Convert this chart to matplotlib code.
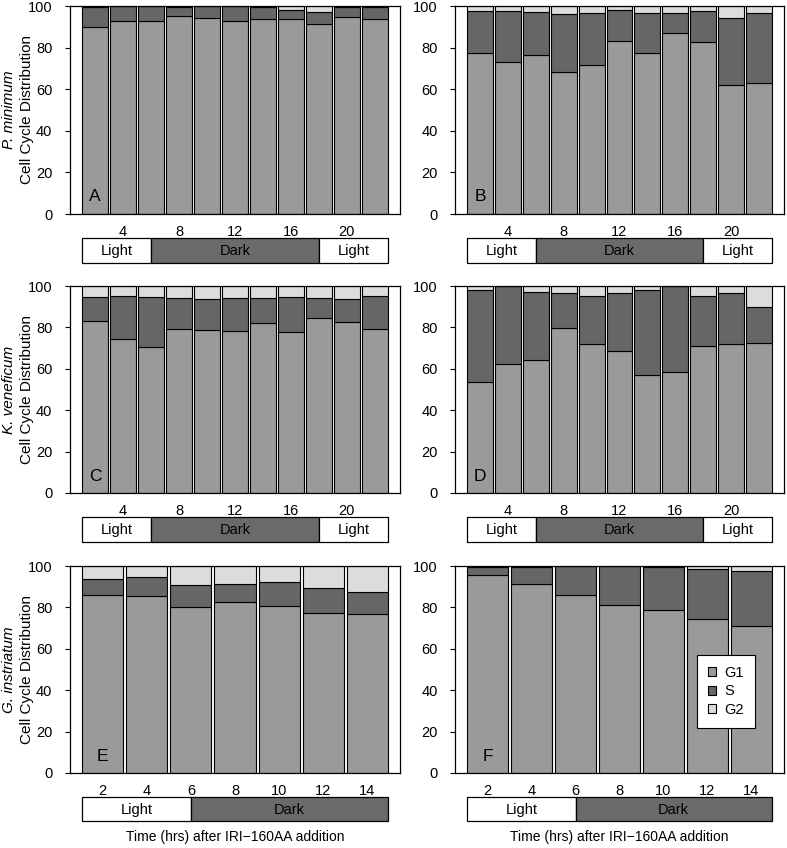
import matplotlib
matplotlib.use("Agg")
import matplotlib.pyplot as plt
from matplotlib.patches import Rectangle
import numpy as np

plt.rcParams['font.family'] = ['Liberation Sans', 'DejaVu Sans']

W, H, DPI = 787, 848, 100

# ---------------- data ----------------
times_24 = [2, 4, 6, 8, 10, 12, 14, 16, 18, 20, 22]
times_14 = [2, 4, 6, 8, 10, 12, 14]
ticks_24 = [4, 8, 12, 16, 20]
ticks_14 = [2, 4, 6, 8, 10, 12, 14]

A_g1 = [90.0, 93.0, 93.0, 95.2, 94.2, 93.0, 93.6, 93.7, 91.2, 94.7, 93.7]
A_s = [9.7, 6.8, 6.8, 4.5, 5.6, 6.8, 6.1, 4.5, 6.1, 4.7, 5.7]
A_g2 = [0.3, 0.2, 0.2, 0.3, 0.2, 0.2, 0.3, 1.8, 2.7, 0.6, 0.6]

B_g1 = [77.5, 73.0, 76.4, 68.5, 71.7, 83.1, 77.5, 87.2, 82.7, 61.8, 62.9]
B_s = [19.9, 24.4, 20.7, 27.6, 25.1, 14.8, 19.3, 9.6, 14.9, 32.6, 33.7]
B_g2 = [2.6, 2.6, 2.9, 3.9, 3.2, 2.1, 3.2, 3.2, 2.4, 5.6, 3.4]

C_g1 = [83.3, 74.3, 70.4, 79.3, 78.9, 78.1, 82.3, 77.8, 84.6, 82.8, 79.4]
C_s = [11.2, 20.9, 24.1, 14.8, 14.7, 16.0, 11.8, 16.7, 9.5, 10.8, 15.8]
C_g2 = [5.5, 4.8, 5.5, 5.9, 6.4, 5.9, 5.9, 5.5, 5.9, 6.4, 4.8]

D_g1 = [53.4, 62.5, 64.3, 79.9, 72.0, 68.6, 56.9, 58.5, 70.9, 72.0, 72.3]
D_s = [44.8, 37.3, 33.0, 16.9, 23.3, 27.9, 41.0, 41.3, 24.1, 24.5, 17.6]
D_g2 = [1.8, 0.2, 2.7, 3.2, 4.7, 3.5, 2.1, 0.2, 5.0, 3.5, 10.1]

E_g1 = [86.2, 85.5, 80.4, 82.6, 80.7, 77.5, 76.8]
E_s = [7.7, 9.4, 10.3, 8.7, 11.6, 11.7, 10.5]
E_g2 = [6.1, 5.1, 9.3, 8.7, 7.7, 10.8, 12.7]

F_g1 = [95.8, 91.3, 85.8, 81.0, 78.9, 74.4, 70.9]
F_s = [3.9, 8.4, 14.0, 18.8, 20.8, 24.3, 26.7]
F_g2 = [0.3, 0.3, 0.2, 0.2, 0.3, 1.3, 2.4]

phase_labels_24 = ["Light", "Dark", "Light"]
phase_bounds_24 = [0, 6, 18, 24]
phase_labels_14 = ["Light", "Dark"]
phase_bounds_14 = [0, 6, 16]

species = ["P. minimum", "K. veneficum", "G. instriatum"]
series_names = ["G1", "S", "G2"]
xlabel = "Time (hrs) after IRI\u2212160AA addition"

# ---------------- style ----------------
C_G1 = "#9a9a9a"
C_S = "#666666"
C_G2 = "#dcdcdc"
C_DARK = "#6a6a6a"
BW = 1.86

fig = plt.figure(figsize=(W / DPI, H / DPI), dpi=DPI)


def px_axes(x0, y0, x1, y1):
    return fig.add_axes([x0 / W, 1 - y1 / H, (x1 - x0) / W, (y1 - y0) / H])


cols = [(70, 400), (455, 784)]
rows = [(6, 214), (286, 493), (566, 773)]
strips = [(238, 263), (517, 542), (797, 821)]

panels = [
    ("A", times_24, ticks_24, A_g1, A_s, A_g2, phase_labels_24, phase_bounds_24),
    ("B", times_24, ticks_24, B_g1, B_s, B_g2, phase_labels_24, phase_bounds_24),
    ("C", times_24, ticks_24, C_g1, C_s, C_g2, phase_labels_24, phase_bounds_24),
    ("D", times_24, ticks_24, D_g1, D_s, D_g2, phase_labels_24, phase_bounds_24),
    ("E", times_14, ticks_14, E_g1, E_s, E_g2, phase_labels_14, phase_bounds_14),
    ("F", times_14, ticks_14, F_g1, F_s, F_g2, phase_labels_14, phase_bounds_14),
]

handles = None
for i, (letter, t, ticks, g1, s, g2, plabels, pbounds) in enumerate(panels):
    r, c = divmod(i, 2)
    x0, x1 = cols[c]
    y0, y1 = rows[r]
    ax = px_axes(x0, y0, x1, y1)
    t = np.array(t, dtype=float)
    g1 = np.array(g1); s = np.array(s); g2 = np.array(g2)
    b1 = ax.bar(t, g1, width=BW, color=C_G1, edgecolor="black", linewidth=0.8)
    b2 = ax.bar(t, s, bottom=g1, width=BW, color=C_S, edgecolor="black", linewidth=0.8)
    b3 = ax.bar(t, g2, bottom=g1 + s, width=BW, color=C_G2, edgecolor="black", linewidth=0.8)
    if letter == "F":
        handles = [b1, b2, b3]
    left = t.min() - BW / 2
    right = t.max() + BW / 2
    pad = 0.04 * (right - left)
    ax.set_xlim(left - pad, right + pad)
    ax.set_ylim(0, 100)
    ax.set_yticks([0, 20, 40, 60, 80, 100])
    ax.set_xticks(ticks)
    ax.set_xticklabels([str(v) for v in ticks])
    ax.tick_params(axis="y", direction="out", length=3.6, width=0.8, pad=9.0, labelsize=10.5)
    ax.tick_params(axis="x", length=0, pad=8, labelsize=10.5)
    for sp in ax.spines.values():
        sp.set_linewidth(0.9)
    ax.text(t[0], 8.2, letter, ha="center", va="center", fontsize=12.5)

    if c == 0:
        fig.text(9 / W, 1 - ((y0 + y1) / 2) / H, species[r], rotation=90,
                 ha="center", va="center", fontsize=11, style="italic")
        fig.text(27.5 / W, 1 - ((y0 + y1) / 2) / H, "Cell Cycle Distribution",
                 rotation=90, ha="center", va="center", fontsize=11)

    # light / dark strip
    sy0, sy1 = strips[r]
    sax = px_axes(x0, sy0, x1, sy1)
    sax.set_xlim(left - pad, right + pad)
    sax.set_ylim(0, 1)
    sax.axis("off")
    for lab, a, b in zip(plabels, pbounds[:-1], pbounds[1:]):
        a = max(a, left)
        b = min(b, right)
        fc = "white" if lab == "Light" else C_DARK
        sax.add_patch(Rectangle((a, 0), b - a, 1, facecolor=fc, edgecolor="black",
                                linewidth=0.9, clip_on=False))
        sax.text((a + b) / 2, 0.47, lab, ha="center", va="center", fontsize=10.5)

    if r == 2:
        fig.text(((x0 + x1) / 2) / W, 1 - 837 / H, xlabel, ha="center", va="center",
                 fontsize=10)

# legend in panel F
leg = fig.legend(handles, series_names, loc="upper left",
                 bbox_to_anchor=(697 / W, 1 - 655 / H), bbox_transform=fig.transFigure,
                 fancybox=False, framealpha=1, edgecolor="black", fontsize=10.5,
                 handlelength=0.55, handleheight=0.55, handletextpad=0.6,
                 borderpad=0.75, labelspacing=0.3, borderaxespad=0)
leg.get_frame().set_linewidth(0.8)

fig.savefig("out.png", dpi=DPI)
